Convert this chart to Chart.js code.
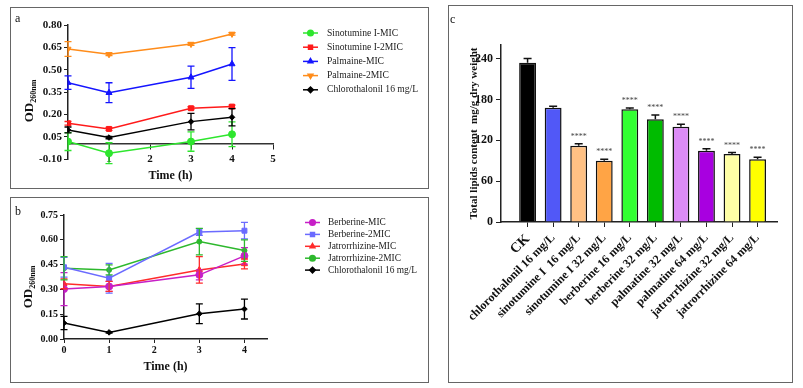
<!DOCTYPE html>
<html>
<head>
<meta charset="utf-8">
<script src="https://cdn.jsdelivr.net/npm/chart.js@4.4.0/dist/chart.umd.min.js"></script>
<style>
  body { margin: 0; background: #fff; width: 803px; height: 388px; position: relative; overflow: hidden; font-family: "Liberation Serif", "Times New Roman", serif; }
  .box { position: absolute; border: 1.5px solid #666; box-sizing: border-box; pointer-events: none; }
  canvas { position: absolute; }
  .tag { position: absolute; font-size: 12px; color: #111; }
</style>
</head>
<body>
<canvas id="chartA" width="418" height="181" style="left:10px;top:7px"></canvas>
<canvas id="chartB" width="418" height="185" style="left:10px;top:197px"></canvas>
<canvas id="chartC" width="344" height="377" style="left:448px;top:5px"></canvas>
<div class="box" style="left:10px;top:7px;width:419px;height:182px"></div>
<div class="box" style="left:10px;top:197px;width:419px;height:186px"></div>
<div class="box" style="left:448px;top:5px;width:345px;height:378px"></div>
<div class="tag" style="left:15px;top:11px">a</div>
<div class="tag" style="left:15px;top:204px">b</div>
<div class="tag" style="left:450px;top:12px">c</div>
<script>
const FONT = "'Liberation Serif', 'Times New Roman', serif";

// ---- panel a ----
const timeA = [0, 1, 3, 4];
const xTicksA = [1, 2, 3, 4, 5];
const yTicksA = [-0.10, 0.05, 0.20, 0.35, 0.50, 0.65, 0.80];
const sinoMIC = [0.017, -0.061, 0.017, 0.066];
const sinoMICErr = [0.06, 0.07, 0.065, 0.083];
const sino2MIC = [0.140, 0.102, 0.241, 0.252];
const sino2MICErr = [0.012, 0.01, 0.01, 0.01];
const palMIC = [0.413, 0.345, 0.449, 0.538];
const palMICErr = [0.045, 0.067, 0.075, 0.11];
const pal2MIC = [0.639, 0.603, 0.672, 0.740];
const pal2MICErr = [0.05, 0.008, 0.008, 0.008];
const chloroA = [0.095, 0.044, 0.151, 0.180];
const chloroAErr = [0.02, 0.008, 0.056, 0.058];

// ---- panel b ----
const timeB = [0, 1, 3, 4];
const xTicksB = [0, 1, 2, 3, 4];
const yTicksB = [0, 0.15, 0.30, 0.45, 0.60, 0.75];
const berMIC = [0.302, 0.318, 0.388, 0.503];
const berMICErr = [0.10, 0.03, 0.03, 0.05];
const ber2MIC = [0.434, 0.368, 0.647, 0.655];
const ber2MICErr = [0.06, 0.09, 0.02, 0.05];
const jatMIC = [0.334, 0.318, 0.418, 0.454];
const jatMICErr = [0.03, 0.03, 0.08, 0.03];
const jat2MIC = [0.428, 0.418, 0.589, 0.535];
const jat2MICErr = [0.07, 0.03, 0.08, 0.065];
const chloroB = [0.0965, 0.040, 0.153, 0.181];
const chloroBErr = [0.04, 0.005, 0.06, 0.06];

// ---- panel c ----
const groupsC = ['CK', 'chlorothalonil 16 mg/L', 'sinotumine I  16 mg/L', 'sinotumine I 32 mg/L',
  'berberine 16 mg/L', 'berberine 32 mg/L', 'palmatine 32 mg/L', 'palmatine 64 mg/L',
  'jatrorrhizine 32 mg/L', 'jatrorrhizine 64 mg/L'];
const lipids = [234, 168, 112, 90, 165.5, 151, 140, 104.5, 100, 92];
const lipidsErr = [6, 2, 3, 2, 2, 6, 3.5, 3, 2, 3];
const starsC = ['', '', '****', '****', '****', '****', '****', '****', '****', '****'];
const colorsC = ['#000000', '#5158f7', '#ffc184', '#ffa445', '#33ff33', '#00bb00', '#dc8cf7', '#a800e0', '#ffffa6', '#ffff00'];
const yTicksC = [0, 60, 120, 180, 240];

function pts(xs, ys) { return xs.map((x, i) => ({ x: x, y: ys[i] })); }

const errorBars = {
  id: 'errorBars',
  afterDatasetsDraw(chart) {
    const ctx = chart.ctx;
    const ys = chart.scales.y;
    chart.data.datasets.forEach((ds, di) => {
      if (!ds.errors) return;
      const meta = chart.getDatasetMeta(di);
      ctx.save();
      ctx.strokeStyle = ds.errorColor || ds.borderColor;
      ctx.lineWidth = ds.errorWidth || 1.3;
      const cap = ds.capWidth || 3.5;
      meta.data.forEach((el, i) => {
        const e = ds.errors[i];
        if (!e) return;
        const raw = ds.data[i];
        const v = typeof raw === 'object' ? raw.y : raw;
        const top = ys.getPixelForValue(v + e);
        const bot = ds.upOnly ? ys.getPixelForValue(v) : ys.getPixelForValue(v - e);
        ctx.beginPath();
        ctx.moveTo(el.x, top); ctx.lineTo(el.x, bot);
        ctx.moveTo(el.x - cap, top); ctx.lineTo(el.x + cap, top);
        if (!ds.upOnly) { ctx.moveTo(el.x - cap, bot); ctx.lineTo(el.x + cap, bot); }
        ctx.stroke();
      });
      ctx.restore();
    });
  }
};

const sideLegend = {
  id: 'sideLegend',
  afterDraw(chart, args, opts) {
    const ctx = chart.ctx;
    ctx.save();
    ctx.font = opts.font;
    ctx.textBaseline = 'middle';
    chart.data.datasets.forEach((ds, i) => {
      const y = opts.y + i * opts.gap;
      ctx.strokeStyle = ds.borderColor;
      ctx.fillStyle = ds.borderColor;
      ctx.lineWidth = 1.5;
      ctx.beginPath();
      ctx.moveTo(opts.x, y); ctx.lineTo(opts.x + opts.len, y);
      ctx.stroke();
      Chart.helpers.drawPoint(ctx, { pointStyle: ds.pointStyle, rotation: ds.pointRotation || 0, radius: 2.8, borderWidth: 1 }, opts.x + opts.len / 2, y);
      ctx.fillStyle = '#222';
      ctx.fillText(ds.label, opts.textX, y);
    });
    ctx.restore();
  }
};

const odTitle = {
  id: 'odTitle',
  afterDraw(chart, args, opts) {
    const ctx = chart.ctx;
    ctx.save();
    ctx.translate(opts.x, opts.y);
    ctx.rotate(-Math.PI / 2);
    ctx.fillStyle = '#111';
    const big = 'bold 13px ' + FONT, small = 'bold 8px ' + FONT;
    ctx.font = big; const w1 = ctx.measureText('OD').width;
    ctx.font = small; const w2 = ctx.measureText('260nm').width;
    const x0 = -(w1 + w2) / 2;
    ctx.font = big; ctx.fillText('OD', x0, 4);
    ctx.font = small; ctx.fillText('260nm', x0 + w1, 7);
    ctx.restore();
  }
};

const starLabels = {
  id: 'starLabels',
  afterDatasetsDraw(chart) {
    const ctx = chart.ctx;
    const meta = chart.getDatasetMeta(0);
    const ys = chart.scales.y;
    ctx.save();
    ctx.font = '8px ' + FONT;
    ctx.fillStyle = '#444';
    ctx.textAlign = 'center';
    ctx.textBaseline = 'middle';
    meta.data.forEach((el, i) => {
      if (!starsC[i]) return;
      ctx.fillText(starsC[i], el.x, ys.getPixelForValue(lipids[i] + lipidsErr[i]) - 7);
    });
    ctx.restore();
  }
};

function lineSet(label, xs, ys, errs, color, style, rot, radius) {
  return {
    label: label, data: pts(xs, ys), errors: errs,
    borderColor: color, backgroundColor: color,
    pointStyle: style, pointRotation: rot || 0, rotation: rot || 0,
    pointRadius: radius || 3.5, pointBorderWidth: 1, borderWidth: 1.5,
    tension: 0, fill: false
  };
}

const axisCol = '#222';
const tickFont = { family: FONT, size: 11, weight: 'bold' };

new Chart(document.getElementById('chartA'), {
  type: 'line',
  data: {
    datasets: [
      lineSet('Sinotumine I-MIC', timeA, sinoMIC, sinoMICErr, '#2ee62e', 'circle'),
      lineSet('Sinotumine I-2MIC', timeA, sino2MIC, sino2MICErr, '#ff1a1a', 'rect'),
      lineSet('Palmaine-MIC', timeA, palMIC, palMICErr, '#1515ff', 'triangle'),
      lineSet('Palmaine-2MIC', timeA, pal2MIC, pal2MICErr, '#ff8c1a', 'triangle', 180),
      lineSet('Chlorothalonil 16 mg/L', timeA, chloroA, chloroAErr, '#000000', 'rectRot', 0, 2.8)
    ]
  },
  options: {
    responsive: false, animation: false,
    layout: { padding: { left: 0, top: 18, right: 155, bottom: 29 } },
    plugins: {
      legend: { display: false }, tooltip: { enabled: false },
      sideLegend: { x: 293, len: 15, textX: 317, y: 26, gap: 14.2, font: '9.6px ' + FONT },
      odTitle: { x: 19, y: 94 }
    },
    scales: {
      x: {
        type: 'linear', position: { y: 0 }, min: 0, max: 5,
        afterBuildTicks: s => { s.ticks = xTicksA.map(v => ({ value: v })); },
        afterFit: s => { s.height = 41; },
        grid: { drawOnChartArea: false, tickLength: 5, color: axisCol },
        border: { color: '#333', width: 1.5 },
        ticks: { font: tickFont, color: '#111', padding: 3 },
        title: { display: true, text: 'Time (h)', font: { family: FONT, size: 12, weight: 'bold' }, color: '#111', padding: { top: 0, bottom: 2 } }
      },
      y: {
        min: -0.10, max: 0.80,
        afterBuildTicks: s => { s.ticks = yTicksA.map(v => ({ value: v })); },
        afterFit: s => { s.width = 58; },
        grid: { drawOnChartArea: false, tickLength: 4, color: axisCol },
        border: { color: axisCol, width: 1.5 },
        ticks: { font: tickFont, color: '#111', padding: 2, callback: v => v.toFixed(2) }
      }
    }
  },
  plugins: [errorBars, sideLegend, odTitle]
});

new Chart(document.getElementById('chartB'), {
  type: 'line',
  data: {
    datasets: [
      lineSet('Berberine-MIC', timeB, berMIC, berMICErr, '#c71fc7', 'circle'),
      lineSet('Berberine-2MIC', timeB, ber2MIC, ber2MICErr, '#6b6bff', 'rect'),
      lineSet('Jatrorrhizine-MIC', timeB, jatMIC, jatMICErr, '#ff2b2b', 'triangle'),
      lineSet('Jatrorrhizine-2MIC', timeB, jat2MIC, jat2MICErr, '#2db82d', 'circle', 0, 2.5),
      lineSet('Chlorothalonil 16 mg/L', timeB, chloroB, chloroBErr, '#000000', 'rectRot', 0, 2.8)
    ]
  },
  options: {
    responsive: false, animation: false,
    layout: { padding: { left: 0, top: 18, right: 161, bottom: 0 } },
    plugins: {
      legend: { display: false }, tooltip: { enabled: false },
      sideLegend: { x: 295, len: 15, textX: 318, y: 25.5, gap: 11.9, font: '9.4px ' + FONT },
      odTitle: { x: 18, y: 90 }
    },
    scales: {
      x: {
        type: 'linear', min: 0, max: 4.5,
        afterBuildTicks: s => { s.ticks = xTicksB.map(v => ({ value: v })); },
        afterFit: s => { s.height = 43; },
        grid: { drawOnChartArea: false, tickLength: 4, color: axisCol },
        border: { color: axisCol, width: 1.5 },
        ticks: { font: { family: FONT, size: 10, weight: 'bold' }, color: '#111', padding: 1 },
        title: { display: true, text: 'Time (h)', font: { family: FONT, size: 12, weight: 'bold' }, color: '#111', padding: { top: 0, bottom: 8 } }
      },
      y: {
        min: 0, max: 0.75,
        afterBuildTicks: s => { s.ticks = yTicksB.map(v => ({ value: v })); },
        afterFit: s => { s.width = 54; },
        grid: { drawOnChartArea: false, tickLength: 4, color: axisCol },
        border: { color: axisCol, width: 1.5 },
        ticks: { font: { family: FONT, size: 10, weight: 'bold' }, color: '#111', padding: 2, callback: v => v.toFixed(2) }
      }
    }
  },
  plugins: [errorBars, sideLegend, odTitle]
});

new Chart(document.getElementById('chartC'), {
  type: 'bar',
  data: {
    datasets: [{
      data: lipids.map((v, i) => ({ x: i, y: v })),
      errors: lipidsErr, errorColor: '#111', errorWidth: 1.5, capWidth: 4, upOnly: true,
      backgroundColor: colorsC, borderColor: '#111', borderWidth: 1.5,
      barPercentage: 0.66, categoryPercentage: 1
    }]
  },
  options: {
    responsive: false, animation: false,
    layout: { padding: { left: 0, top: 40, right: 15, bottom: 0 } },
    plugins: { legend: { display: false }, tooltip: { enabled: false } },
    scales: {
      x: {
        type: 'linear', min: -1.04, max: 9.76, offset: false,
        afterBuildTicks: s => { s.ticks = groupsC.map((g, i) => ({ value: i })); },
        afterFit: s => { s.height = 160; },
        grid: { drawOnChartArea: false, offset: false, tickLength: 5, color: axisCol },
        border: { color: axisCol, width: 1.5 },
        ticks: {
          autoSkip: false, minRotation: 45, maxRotation: 45, color: '#111', padding: 4,
          font: ctx => ({ family: FONT, size: ctx.index === 0 ? 14 : 12, weight: 'bold' }),
          callback: v => groupsC[v]
        }
      },
      y: {
        min: 0, max: 260,
        afterBuildTicks: s => { s.ticks = yTicksC.map(v => ({ value: v })); },
        afterFit: s => { s.width = 53; },
        grid: { drawOnChartArea: false, tickLength: 5, color: axisCol },
        border: { color: axisCol, width: 1.5 },
        ticks: { font: { family: FONT, size: 12, weight: 'bold' }, color: '#111', padding: 3 },
        title: { display: true, text: 'Total lipids content  mg/g dry weight', font: { family: FONT, size: 11, weight: 'bold' }, color: '#111', padding: { top: 20, bottom: 0 } }
      }
    }
  },
  plugins: [errorBars, starLabels]
});
</script>
</body>
</html>
